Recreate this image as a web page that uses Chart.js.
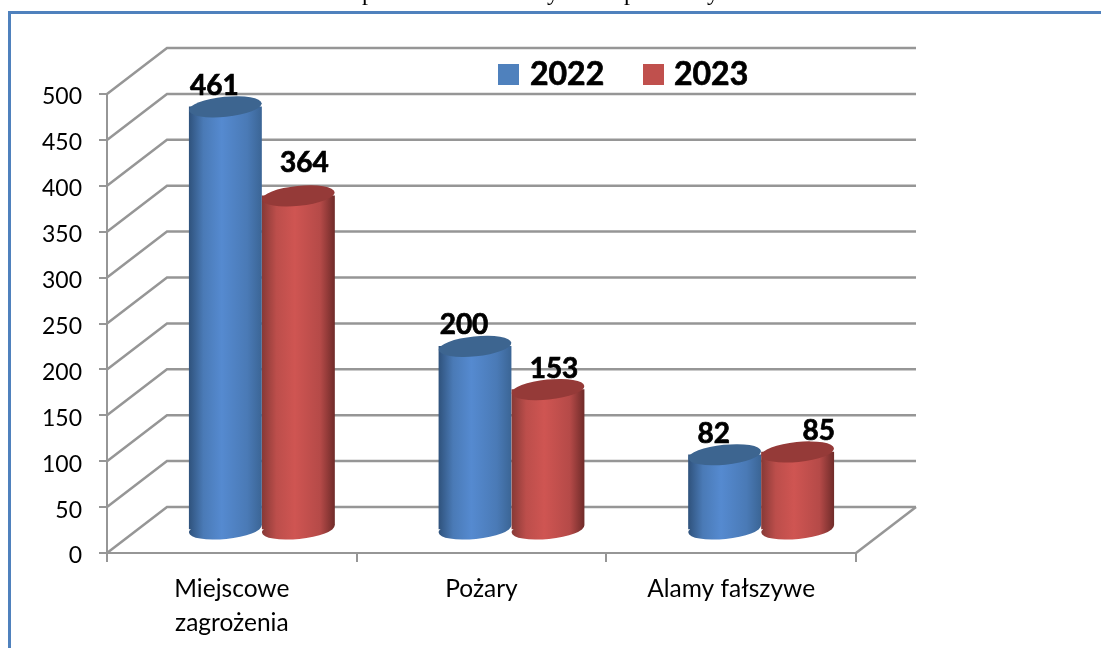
<!DOCTYPE html>
<html>
<head>
<meta charset="utf-8">
<style>
  html, body { margin: 0; padding: 0; background: #fff; overflow: hidden; }
  #wrap { position: relative; width: 1101px; height: 648px; }
  canvas { display: block; }
</style>
<script src="https://cdn.jsdelivr.net/npm/chart.js@4"></script>
</head>
<body>
<div id="wrap"><canvas id="chart" width="1101" height="648"></canvas></div>
<script>
const categories = [['Miejscowe', 'zagrożenia'], 'Pożary', 'Alamy fałszywe'];
const values2022 = [461, 200, 82];
const values2023 = [364, 153, 85];
const yMax = 500;
const yStep = 50;
const seriesNames = ['2022', '2023'];
// all that is left of the text line cut off by the top of the page
const cutOffLetters = ['p', 'y', 'p', 'y'];
const cutOffLetterX = [368, 553, 630, 713];

const fontName = 'Lato, sans-serif';
const depthX = 60, depthY = 46;       // how far the back wall sits behind the front
const barW = 73;
const tilt = -0.1;                    // cylinder ends lean up to the right
const ry = 10;
const gridColor = '#969696';

// left, middle, right colours of each cylinder + its lid
const shades = [
  { stops: ['#2f527c', '#4a7ab6', '#558ad0', '#4a7ab6', '#3b6595'], lid: '#3d6590', key: '#4f81bd' },
  { stops: ['#873936', '#bc4e4b', '#cf5552', '#b54a48', '#6f2b29'], lid: '#953a38', key: '#c0504d' }
];

function sideGradient(c, x0, x1, set) {
  const g = c.createLinearGradient(x0, 0, x1, 0);
  set.stops.forEach((col, i) => g.addColorStop([0, 0.2, 0.45, 0.8, 1][i], col));
  return g;
}

// bar fill, worked out from the category scale since the element has no x yet
function barFill(ctx) {
  const chart = ctx.chart;
  const set = shades[ctx.datasetIndex];
  if (!chart.chartArea || ctx.dataIndex === undefined) return set.key;
  const mid = chart.scales.x.getPixelForValue(ctx.dataIndex) + (ctx.datasetIndex === 0 ? -barW / 2 : barW / 2);
  return sideGradient(chart.ctx, mid - barW / 2, mid + barW / 2, set);
}

// bold text looks thin next to the original, go over it once more
function heavyText(c, text, x, y) {
  c.lineWidth = 0.7;
  c.strokeStyle = '#000';
  c.strokeText(text, x, y);
  c.fillText(text, x, y);
}

// the 3d box: floor, side wall and back wall lines
const wallPlugin = {
  id: 'walls',
  beforeDatasetsDraw(chart) {
    const c = chart.ctx;
    const y = chart.scales.y;
    const a = chart.chartArea;
    c.save();
    c.strokeStyle = gridColor;
    c.lineWidth = 2.5;
    y.ticks.forEach(t => {
      const py = y.getPixelForValue(t.value);
      c.beginPath();
      c.moveTo(a.left, py);
      c.lineTo(a.left + depthX, py - depthY);
      c.lineTo(a.right + depthX, py - depthY);
      c.stroke();
    });
    const py0 = y.getPixelForValue(0);
    c.beginPath();
    c.moveTo(a.right + depthX, py0 - depthY);
    c.lineTo(a.right, py0);
    c.stroke();
    c.restore();
  }
};

// cylinders: the bars come from chart.js, moved half way into the box, with ellipses for the ends
const cylinderPlugin = {
  id: 'cylinders',
  beforeDatasetsDraw(chart) {
    const c = chart.ctx;
    const dx = depthX / 2, dy = depthY / 2;
    [0, 1].forEach(i => {
      const meta = chart.getDatasetMeta(i);
      meta.data.forEach(bar => {
        const p = bar.getProps(['x', 'y', 'base', 'width']);
        const x0 = p.x - p.width / 2, x1 = p.x + p.width / 2;
        const lean = Math.sin(-tilt) * p.width / 2;
        c.save();
        c.translate(dx, -dy);

        // bottom end first, then body clipped to the leaning bottom edge
        c.fillStyle = sideGradient(c, x0, x1, shades[i]);
        c.beginPath();
        c.ellipse(p.x, p.base, p.width / 2, ry, tilt, 0, Math.PI * 2);
        c.fill();

        c.save();
        c.beginPath();
        c.moveTo(x0, p.y - ry * 2);
        c.lineTo(x1, p.y - ry * 2);
        c.lineTo(x1, p.base - lean);
        c.lineTo(x0, p.base + lean);
        c.closePath();
        c.clip();
        bar.draw(c, chart.chartArea);
        c.restore();

        c.fillStyle = shades[i].lid;
        c.beginPath();
        c.ellipse(p.x, p.y, p.width / 2, ry, tilt, 0, Math.PI * 2);
        c.fill();
        c.restore();
      });
    });
    // labels go on after all the bars
    c.save();
    c.fillStyle = '#000';
    c.font = 'bold 28px ' + fontName;
    c.textAlign = 'center';
    c.textBaseline = 'alphabetic';
    [0, 1].forEach(i => {
      chart.getDatasetMeta(i).data.forEach((bar, j) => {
        const p = bar.getProps(['x', 'y']);
        let lx = p.x + dx + (i === 0 ? -11 : 6);
        let ly = p.y - dy - 12;
        if (i === 1 && j === 0) ly -= 12;   // 364 sits higher
        if (i === 1 && j === 2) lx += 15;   // 85 sits further right
        heavyText(c, String(chart.data.datasets[i].data[j]), lx, ly);
      });
    });
    c.restore();
    return false;
  }
};

// legend inside the box, drawn here since the chart.js one leaves too wide a gap after the square
const legendPlugin = {
  id: 'legendInside',
  afterDraw(chart) {
    const c = chart.ctx;
    c.save();
    c.font = 'bold 32px ' + fontName;
    c.textBaseline = 'alphabetic';
    c.fillStyle = shades[0].key;
    c.fillRect(498, 64, 21, 21);
    c.fillStyle = shades[1].key;
    c.fillRect(643, 64, 21, 21);
    c.fillStyle = '#000';
    heavyText(c, seriesNames[0], 530, 85);
    heavyText(c, seriesNames[1], 674, 85);
    c.restore();
  }
};

// page frame and the cut off line of text above it
const framePlugin = {
  id: 'frame',
  beforeDraw(chart) {
    const c = chart.ctx;
    c.save();
    c.fillStyle = '#fff';
    c.fillRect(0, 0, chart.width, chart.height);
    c.fillStyle = '#4f81bd';
    c.fillRect(8, 11, 1093, 3);
    c.fillRect(8, 11, 3, 637);
    c.fillStyle = '#000';
    c.font = '24px "Liberation Serif", serif';
    c.textAlign = 'center';
    c.textBaseline = 'alphabetic';
    cutOffLetters.forEach((t, i) => c.fillText(t, cutOffLetterX[i], 0));
    c.restore();
  }
};

// y labels sit a little under their tick in the original
function lowerLabels(scale) {
  if (scale.lowered) return;
  scale.lowered = true;
  const drawLabels = scale.drawLabels;
  scale.drawLabels = function(area) {
    scale.ctx.save();
    scale.ctx.translate(0, 3);
    drawLabels.call(scale, area);
    scale.ctx.restore();
  };
}

new Chart(document.getElementById('chart'), {
  type: 'bar',
  data: {
    labels: categories,
    datasets: [
      { label: seriesNames[0], data: values2022, backgroundColor: barFill, borderWidth: 0, barThickness: barW },
      { label: seriesNames[1], data: values2023, backgroundColor: barFill, borderWidth: 0, barThickness: barW }
    ]
  },
  plugins: [framePlugin, wallPlugin, cylinderPlugin, legendPlugin],
  options: {
    responsive: false,
    animation: false,
    events: [],
    layout: { padding: { left: 0, right: 245, top: 94, bottom: 0 } },
    plugins: {
      tooltip: { enabled: false },
      title: { display: false },
      legend: { display: false }
    },
    scales: {
      x: {
        afterFit: s => { s.height = 95; },
        border: { color: gridColor, width: 2 },
        grid: { drawOnChartArea: false, color: gridColor, lineWidth: 2, tickLength: 9, offset: true },
        ticks: {
          color: '#000',
          maxRotation: 0,
          autoSkip: false,
          padding: 10,
          font: { family: fontName, size: 24.5, lineHeight: 1.4 }
        }
      },
      y: {
        min: 0,
        max: yMax,
        afterFit: s => { s.width = 107; },
        afterUpdate: lowerLabels,
        border: { color: gridColor, width: 2 },
        grid: { drawOnChartArea: false, color: gridColor, lineWidth: 2, tickLength: 8 },
        ticks: {
          stepSize: yStep,
          color: '#000',
          padding: 17,
          font: { family: fontName, size: 23 }
        }
      }
    }
  }
});
</script>
</body>
</html>
